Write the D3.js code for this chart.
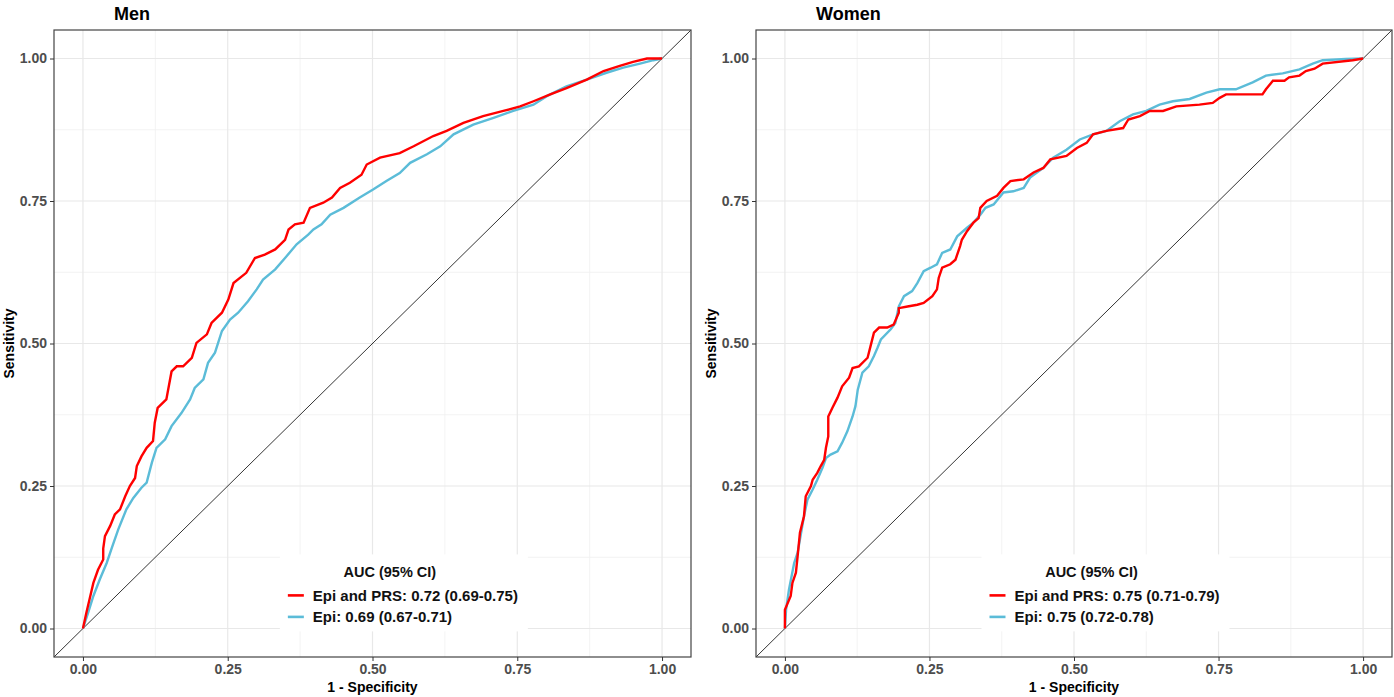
<!DOCTYPE html>
<html>
<head>
<meta charset="utf-8">
<script src="https://cdn.jsdelivr.net/npm/d3@7"></script>
<style>
  html, body { margin: 0; padding: 0; background: #fff; }
  svg { display: block; }
  text { font-family: "Liberation Sans", Arial, Helvetica, sans-serif; }
</style>
</head>
<body>
<svg id="chart" width="1394" height="697"></svg>
<script>
// ROC curves: [1 - specificity, sensitivity]
const menEpiPrs = [
  [0,0],[0.006,0.028],[0.012,0.054],[0.018,0.08],[0.026,0.103],[0.035,0.121],[0.035,0.14],[0.038,0.162],
  [0.047,0.18],[0.055,0.2],[0.064,0.209],[0.073,0.232],[0.081,0.25],[0.09,0.264],[0.093,0.285],
  [0.101,0.302],[0.11,0.317],[0.121,0.329],[0.124,0.361],[0.129,0.387],[0.144,0.402],[0.153,0.451],
  [0.162,0.46],[0.173,0.46],[0.188,0.475],[0.196,0.501],[0.214,0.516],[0.222,0.536],[0.24,0.554],
  [0.251,0.577],[0.26,0.606],[0.282,0.624],[0.297,0.65],[0.314,0.656],[0.332,0.665],[0.349,0.682],
  [0.355,0.7],[0.366,0.709],[0.381,0.712],[0.392,0.738],[0.415,0.747],[0.43,0.756],[0.444,0.773],
  [0.461,0.782],[0.481,0.796],[0.49,0.814],[0.513,0.826],[0.547,0.834],[0.571,0.846],[0.605,0.864],
  [0.628,0.873],[0.657,0.887],[0.691,0.899],[0.726,0.908],[0.755,0.916],[0.778,0.925],[0.807,0.937],
  [0.835,0.948],[0.87,0.963],[0.899,0.978],[0.927,0.987],[0.95,0.994],[0.974,1.0],[1,1]
];
const menEpi = [
  [0,0],[0.009,0.028],[0.018,0.057],[0.029,0.086],[0.041,0.115],[0.05,0.142],[0.061,0.174],[0.075,0.209],
  [0.087,0.229],[0.101,0.247],[0.11,0.256],[0.119,0.291],[0.127,0.317],[0.142,0.332],[0.153,0.355],
  [0.17,0.378],[0.185,0.402],[0.193,0.422],[0.208,0.437],[0.216,0.466],[0.228,0.484],[0.24,0.522],
  [0.254,0.542],[0.268,0.554],[0.285,0.574],[0.3,0.595],[0.311,0.612],[0.332,0.63],[0.349,0.65],
  [0.369,0.674],[0.389,0.691],[0.398,0.7],[0.412,0.709],[0.427,0.726],[0.45,0.738],[0.478,0.756],
  [0.501,0.77],[0.524,0.785],[0.547,0.799],[0.565,0.817],[0.594,0.832],[0.617,0.846],[0.64,0.867],
  [0.674,0.884],[0.709,0.896],[0.743,0.908],[0.778,0.919],[0.801,0.934],[0.835,0.951],[0.87,0.963],
  [0.904,0.975],[0.933,0.984],[0.962,0.991],[0.985,0.997],[1,1]
];
const womenEpiPrs = [
  [0,0],[0,0.033],[0.01,0.057],[0.013,0.08],[0.019,0.098],[0.022,0.127],[0.026,0.168],[0.033,0.197],
  [0.036,0.232],[0.045,0.25],[0.048,0.261],[0.056,0.273],[0.062,0.285],[0.068,0.296],[0.071,0.317],
  [0.075,0.337],[0.075,0.372],[0.082,0.387],[0.091,0.405],[0.099,0.425],[0.111,0.44],[0.117,0.457],
  [0.128,0.46],[0.143,0.475],[0.148,0.495],[0.154,0.519],[0.163,0.528],[0.177,0.528],[0.188,0.533],
  [0.197,0.554],[0.197,0.562],[0.212,0.565],[0.229,0.568],[0.24,0.571],[0.255,0.583],[0.263,0.595],
  [0.266,0.615],[0.272,0.633],[0.286,0.639],[0.295,0.647],[0.303,0.671],[0.306,0.682],[0.315,0.697],
  [0.326,0.712],[0.335,0.72],[0.338,0.738],[0.349,0.75],[0.367,0.759],[0.378,0.773],[0.39,0.785],
  [0.413,0.788],[0.43,0.8],[0.447,0.808],[0.459,0.823],[0.487,0.829],[0.505,0.843],[0.522,0.852],
  [0.533,0.867],[0.556,0.873],[0.585,0.878],[0.594,0.893],[0.614,0.899],[0.631,0.908],[0.654,0.908],
  [0.677,0.916],[0.717,0.919],[0.74,0.922],[0.752,0.931],[0.763,0.937],[0.826,0.937],[0.832,0.946],
  [0.844,0.961],[0.864,0.961],[0.872,0.967],[0.89,0.97],[0.901,0.978],[0.916,0.982],[0.93,0.991],
  [0.982,0.997],[1,1]
];
const womenEpi = [
  [0,0],[0.002,0.033],[0.007,0.068],[0.016,0.115],[0.022,0.133],[0.028,0.168],[0.033,0.197],[0.039,0.226],
  [0.048,0.244],[0.056,0.261],[0.065,0.282],[0.071,0.299],[0.079,0.305],[0.091,0.311],[0.099,0.326],
  [0.108,0.346],[0.117,0.372],[0.122,0.39],[0.126,0.419],[0.134,0.449],[0.145,0.46],[0.154,0.478],
  [0.16,0.492],[0.166,0.507],[0.183,0.525],[0.191,0.536],[0.197,0.565],[0.206,0.583],[0.22,0.592],
  [0.229,0.606],[0.24,0.627],[0.252,0.633],[0.263,0.639],[0.272,0.659],[0.286,0.665],[0.298,0.688],
  [0.315,0.703],[0.326,0.712],[0.338,0.726],[0.347,0.738],[0.361,0.744],[0.378,0.765],[0.395,0.767],
  [0.413,0.773],[0.424,0.791],[0.447,0.808],[0.464,0.826],[0.487,0.84],[0.51,0.858],[0.533,0.867],
  [0.556,0.873],[0.579,0.89],[0.602,0.902],[0.625,0.908],[0.648,0.919],[0.671,0.925],[0.7,0.929],
  [0.729,0.94],[0.752,0.946],[0.78,0.946],[0.809,0.958],[0.832,0.97],[0.861,0.974],[0.89,0.981],
  [0.913,0.991],[0.93,0.997],[0.97,0.999],[1,1]
];

const panelTitles = ["Men", "Women"];
const seriesNames = ["Epi and PRS", "Epi"];
const seriesColors = ["#ff0000", "#5bbcd8"];
const menLabels = ["Epi and PRS: 0.72 (0.69-0.75)", "Epi: 0.69 (0.67-0.71)"];
const womenLabels = ["Epi and PRS: 0.75 (0.71-0.79)", "Epi: 0.75 (0.72-0.78)"];
const legendTitle = "AUC (95% CI)";
const majorTicks = [0, 0.25, 0.5, 0.75, 1];
const minorTicks = [0.125, 0.375, 0.625, 0.875];
const xTitle = "1 - Specificity";
const yTitle = "Sensitivity";

const panels = [
  { title: panelTitles[0], curves: [menEpiPrs, menEpi], labels: menLabels, left: 54, right: 691 },
  { title: panelTitles[1], curves: [womenEpiPrs, womenEpi], labels: womenLabels, left: 756, right: 1392 }
];
const plotTop = 30, plotBottom = 657;

const svg = d3.select("#chart");
const fmt = d3.format(".2f");

panels.forEach(p => {
  const x = d3.scaleLinear().domain([-0.05, 1.05]).range([p.left, p.right]);
  const y = d3.scaleLinear().domain([-0.05, 1.05]).range([plotBottom, plotTop]);
  const g = svg.append("g");

  // grid
  const grid = g.append("g");
  minorTicks.forEach(t => {
    grid.append("line").attr("x1", x(t)).attr("x2", x(t)).attr("y1", plotTop).attr("y2", plotBottom)
      .attr("stroke", "#f0f0f0").attr("stroke-width", 0.8);
    grid.append("line").attr("y1", y(t)).attr("y2", y(t)).attr("x1", p.left).attr("x2", p.right)
      .attr("stroke", "#f0f0f0").attr("stroke-width", 0.8);
  });
  majorTicks.forEach(t => {
    grid.append("line").attr("x1", x(t)).attr("x2", x(t)).attr("y1", plotTop).attr("y2", plotBottom)
      .attr("stroke", "#e8e8e8").attr("stroke-width", 1.2);
    grid.append("line").attr("y1", y(t)).attr("y2", y(t)).attr("x1", p.left).attr("x2", p.right)
      .attr("stroke", "#e8e8e8").attr("stroke-width", 1.2);
  });

  // chance line spanning the full panel
  g.append("line")
    .attr("x1", x(-0.05)).attr("y1", y(-0.05)).attr("x2", x(1.05)).attr("y2", y(1.05))
    .attr("stroke", "#000").attr("stroke-width", 0.8);

  // ROC curves
  const line = d3.line().x(d => x(d[0])).y(d => y(d[1]));
  [1, 0].forEach(i => {
    g.append("path").datum(p.curves[i])
      .attr("d", line)
      .attr("fill", "none")
      .attr("stroke", seriesColors[i])
      .attr("stroke-width", 2.4)
      .attr("stroke-linejoin", "miter");
  });

  // legend with white background
  const lx = x(0.34), ly = y(0.13);
  const lg = g.append("g").attr("transform", `translate(${lx},${ly})`);
  lg.append("rect").attr("x", 0).attr("y", 0).attr("width", 248).attr("height", 77).attr("fill", "#fff");
  lg.append("text").attr("x", 110).attr("y", 23).attr("text-anchor", "middle")
    .attr("font-size", 14.5).attr("font-weight", "bold").attr("fill", "#111").text(legendTitle);
  p.labels.forEach((lab, i) => {
    const yy = 41 + i * 21.5;
    lg.append("line").attr("x1", 8).attr("x2", 24).attr("y1", yy).attr("y2", yy)
      .attr("stroke", seriesColors[i]).attr("stroke-width", 2.6);
    lg.append("text").attr("x", 33).attr("y", yy + 5.5)
      .attr("font-size", 15).attr("font-weight", "bold").attr("fill", "#111").text(lab);
  });

  // panel border
  g.append("rect").attr("x", p.left).attr("y", plotTop)
    .attr("width", p.right - p.left).attr("height", plotBottom - plotTop)
    .attr("fill", "none").attr("stroke", "#444").attr("stroke-width", 1.2);

  // axes
  const xAxis = d3.axisBottom(x).tickValues(majorTicks).tickFormat(fmt).tickSize(4).tickPadding(3);
  const yAxis = d3.axisLeft(y).tickValues(majorTicks).tickFormat(fmt).tickSize(4).tickPadding(3);
  const xg = g.append("g").attr("transform", `translate(0,${plotBottom})`).call(xAxis);
  const yg = g.append("g").attr("transform", `translate(${p.left},0)`).call(yAxis);
  [xg, yg].forEach(a => {
    a.select(".domain").remove();
    a.selectAll(".tick line").attr("stroke", "#333");
    a.selectAll(".tick text").attr("font-size", 14).attr("font-weight", "bold")
      .attr("fill", "#4d4d4d").style("font-family", '"Liberation Sans", Arial, sans-serif');
  });

  // titles
  g.append("text").attr("x", p.left + 60).attr("y", 20)
    .attr("font-size", 18).attr("font-weight", "bold").attr("fill", "#000").text(p.title);
  g.append("text").attr("x", (p.left + p.right) / 2).attr("y", 692).attr("text-anchor", "middle")
    .attr("font-size", 14).attr("font-weight", "bold").attr("fill", "#000").text(xTitle);
  g.append("text").attr("transform", `translate(${p.left - 40},${(plotTop + plotBottom) / 2}) rotate(-90)`)
    .attr("text-anchor", "middle")
    .attr("font-size", 14).attr("font-weight", "bold").attr("fill", "#000").text(yTitle);
});
</script>
</body>
</html>
